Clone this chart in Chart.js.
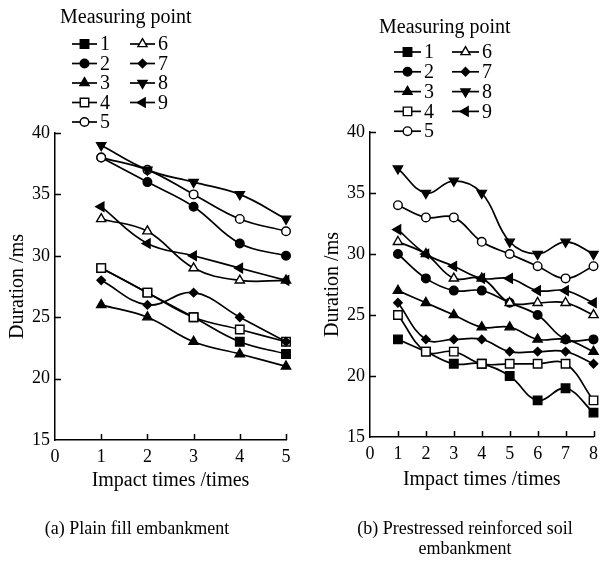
<!DOCTYPE html>
<html>
<head>
<meta charset="utf-8">
<script src="https://cdn.jsdelivr.net/npm/chart.js@4.4.1/dist/chart.umd.min.js"></script>
<style>
  html, body { margin: 0; padding: 0; background: #fff; }
  body { width: 604px; height: 563px; position: relative; overflow: hidden;
         font-family: "Liberation Serif", "Times New Roman", serif; color: #000; }
  .wrap { position: absolute; top: 0; height: 563px; }
  #wa { left: 0; width: 302px; }
  #wb { left: 300px; width: 304px; }
  .cap { position: absolute; font-size: 18px; text-align: center; line-height: 20px; }
</style>
</head>
<body>
<div class="wrap" id="wa"><canvas id="ca" width="302" height="563"></canvas></div>
<div class="wrap" id="wb"><canvas id="cb" width="304" height="563"></canvas></div>
<div class="cap" style="left:0;width:274px;top:518px;">(a) Plain fill embankment</div>
<div class="cap" style="left:326px;width:278px;top:518px;">(b) Prestressed reinforced soil<br>embankment</div>

<script>
// ---- data: duration (ms) at each measuring point vs. impact number ----
const pointNames = ['1', '2', '3', '4', '5', '6', '7', '8', '9'];

// (a) plain fill embankment, impacts 1..5
const plainImpacts = [1, 2, 3, 4, 5];
const plainP1 = [29, 27, 25, 23, 22];
const plainP2 = [38, 36, 34, 31, 30];
const plainP3 = [26, 25, 23, 22, 21];
const plainP4 = [29, 27, 25, 24, 23];
const plainP5 = [38, 37, 35, 33, 32];
const plainP6 = [33, 32, 29, 28, 28];
const plainP7 = [28, 26, 27, 25, 23];
const plainP8 = [39, 37, 36, 35, 33];
const plainP9 = [34, 31, 30, 29, 28];

// (b) prestressed reinforced soil embankment, impacts 1..8
const reinfImpacts = [1, 2, 3, 4, 5, 6, 7, 8];
const reinfP1 = [23, 22, 21, 21, 20, 18, 19, 17];
const reinfP2 = [30, 28, 27, 27, 26, 25, 23, 23];
const reinfP3 = [27, 26, 25, 24, 24, 23, 23, 22];
const reinfP4 = [25, 22, 22, 21, 21, 21, 21, 18];
const reinfP5 = [34, 33, 33, 31, 30, 29, 28, 29];
const reinfP6 = [31, 30, 28, 28, 26, 26, 26, 25];
const reinfP7 = [26, 23, 23, 23, 22, 22, 22, 21];
const reinfP8 = [37, 35, 36, 35, 31, 30, 31, 30];
const reinfP9 = [32, 30, 29, 28, 28, 27, 27, 26];

const yTickValues = [15, 20, 25, 30, 35, 40];

const plainSeries = [plainP1, plainP2, plainP3, plainP4, plainP5, plainP6, plainP7, plainP8, plainP9];
const reinfSeries = [reinfP1, reinfP2, reinfP3, reinfP4, reinfP5, reinfP6, reinfP7, reinfP8, reinfP9];

// marker look for each measuring point
const markers = [
  { style: 'rect',     r: 6.0, fill: true,  rot: 0 },
  { style: 'circle',   r: 4.3, fill: true,  rot: 0 },
  { style: 'triangle', r: 5.3, fill: true,  rot: 0 },
  { style: 'rect',     r: 6.0, fill: false, rot: 0 },
  { style: 'circle',   r: 4.3, fill: false, rot: 0 },
  { style: 'triangle', r: 5.3, fill: false, rot: 0 },
  { style: 'rectRot',  r: 4.2, fill: true,  rot: 0 },
  { style: 'triangle', r: 5.3, fill: true,  rot: 180 },
  { style: 'triangle', r: 5.3, fill: true,  rot: -90 }
];

const FONT = '"Liberation Serif", "Times New Roman", serif';

function buildDatasets(xs, series) {
  return series.map((vals, i) => {
    const m = markers[i];
    return {
      label: pointNames[i],
      data: vals.map((v, k) => ({ x: xs[k], y: v })),
      borderColor: '#000',
      borderWidth: 1.7,
      tension: 0.4,
      pointStyle: m.style,
      pointRadius: m.r,
      pointRotation: m.rot,
      pointBackgroundColor: m.fill ? '#000' : '#fff',
      pointBorderColor: '#000',
      pointBorderWidth: 1.4,
      clip: false,
      order: -i
    };
  });
}

function drawMarker(ctx, m, x, y) {
  ctx.save();
  ctx.fillStyle = m.fill ? '#000' : '#fff';
  ctx.strokeStyle = '#000';
  ctx.lineWidth = 1.4;
  Chart.helpers.drawPoint(ctx, { pointStyle: m.style, rotation: m.rot, radius: m.r, borderWidth: 1.4 }, x, y);
  ctx.restore();
}

// inner tick marks, axis titles and the two-column legend
const decor = {
  id: 'decor',
  afterDraw(chart, args, o) {
    const { ctx } = chart;
    const xs = chart.scales.x, ys = chart.scales.y;
    ctx.save();
    ctx.strokeStyle = '#000';
    ctx.lineWidth = 1.5;
    ctx.beginPath();
    ys.ticks.forEach(t => {
      if (t.value === ys.min) return;
      const py = Math.round(ys.getPixelForValue(t.value)) + 0.5;
      ctx.moveTo(xs.left, py); ctx.lineTo(xs.left + 6, py);
    });
    xs.ticks.forEach(t => {
      if (t.value === xs.min) return;
      const px = Math.round(xs.getPixelForValue(t.value)) + 0.5;
      ctx.moveTo(px, ys.bottom); ctx.lineTo(px, ys.bottom - 6);
    });
    ctx.stroke();

    ctx.fillStyle = '#000';
    ctx.font = '20px ' + FONT;
    ctx.textAlign = 'center';
    ctx.textBaseline = 'middle';
    ctx.fillText('Impact times /times', (xs.left + xs.right) / 2, o.xTitleY);
    ctx.save();
    ctx.translate(o.yTitleX, (ys.top + ys.bottom) / 2);
    ctx.rotate(-Math.PI / 2);
    ctx.fillText('Duration /ms', 0, 0);
    ctx.restore();

    // legend
    const L = o.legend;
    ctx.textAlign = 'left';
    ctx.font = '20px ' + FONT;
    ctx.fillText('Measuring point', L.headX, L.headY);
    chart.data.datasets.forEach((ds, i) => {
      const col = i < 5 ? 0 : 1;
      const row = i < 5 ? i : i - 5;
      const x0 = L.cols[col], y0 = L.rowY + row * L.rowH;
      ctx.beginPath();
      ctx.lineWidth = 1.7;
      ctx.moveTo(x0, y0); ctx.lineTo(x0 + L.lineW, y0);
      ctx.stroke();
      drawMarker(ctx, markers[i], x0 + L.lineW / 2, y0);
      ctx.fillStyle = '#000';
      ctx.fillText(ds.label, x0 + L.lineW + 3, y0 + 1);
    });
    ctx.restore();
  }
};

function makeChart(id, xs, series, xMax, pad, yAxisW, decoOpts) {
  return new Chart(document.getElementById(id), {
    type: 'line',
    data: { datasets: buildDatasets(xs, series) },
    options: {
      responsive: false,
      animation: false,
      layout: { padding: pad },
      plugins: { legend: { display: false }, tooltip: { enabled: false }, decor: decoOpts },
      scales: {
        x: {
          type: 'linear', min: 0, max: xMax,
          grid: { display: false, drawTicks: false },
          border: { display: true, color: '#000', width: 1.5 },
          ticks: { stepSize: 1, color: '#000', padding: 6, font: { family: FONT, size: 18 } },
          afterFit(s) { s.height = 40; }
        },
        y: {
          type: 'linear', min: 15, max: 40,
          grid: { display: false, drawTicks: false },
          border: { display: true, color: '#000', width: 1.5 },
          ticks: { color: '#000', padding: 5, font: { family: FONT, size: 18 } },
          afterBuildTicks(s) { s.ticks = yTickValues.map(v => ({ value: v })); },
          afterFit(s) { s.width = yAxisW; }
        }
      }
    },
    plugins: [decor]
  });
}

makeChart('ca', plainImpacts, plainSeries, 5,
  { left: 0, top: 133, right: 16, bottom: 83 }, 55,
  { xTitleY: 481, yTitleX: 18,
    legend: { headX: 60, headY: 18, cols: [72, 130], lineW: 25, rowY: 44, rowH: 19.5 } });

makeChart('cb', reinfImpacts, reinfSeries, 8,
  { left: 0, top: 132, right: 6, bottom: 86 }, 70,
  { xTitleY: 480, yTitleX: 33,
    legend: { headX: 79, headY: 28, cols: [94, 152], lineW: 27, rowY: 52, rowH: 19.8 } });
</script>
</body>
</html>
